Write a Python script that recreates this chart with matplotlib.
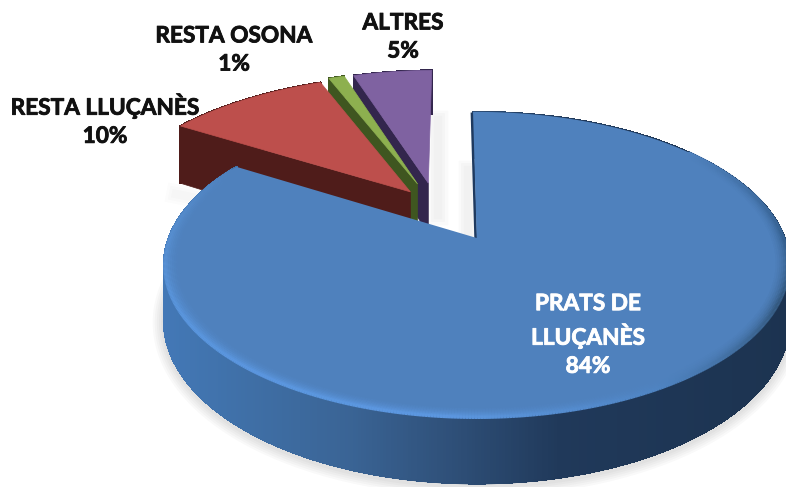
import matplotlib
matplotlib.use('Agg')
import matplotlib.pyplot as plt
import matplotlib.patheffects as pe
from matplotlib.collections import LineCollection, PolyCollection
from matplotlib.colors import to_rgb
import numpy as np

plt.rcParams['font.family'] = ['Lato', 'DejaVu Sans']

categories = ['PRATS DE\nLLUÇANÈS', 'RESTA LLUÇANÈS', 'RESTA OSONA', 'ALTRES']
values = [84, 10, 1, 5]

top_colors = ['#4f81bd', '#bd4f4c', '#8db04f', '#7f62a1']
cut_colors = ['#1f3a5f', '#4f1c1a', '#3f5620', '#33264d']
explode = [0, 0.40, 0.44, 0.43]
explode_dir = [0, 124.7, 117.8, 113.0]
radius = [1.0, 1.035, 1.015, 1.015]
depth = [54, 66, 54, 54]
label_pos = [(588, 335), (105, 120), (234, 50), (403, 37)]
label_colors = ['white', '#111111', '#111111', '#111111']

# perspective of the pie plane, in picture pixels
X0, Y0, BX, AY, K = 476.7, 238, 308, 148.3, 0.176
START = 90.8


def proj(u, v):
    den = 1 + K * v
    return X0 + BX * u / den, Y0 - AY * v / den


def drop(v, h=54):
    return h / (1 + K * v)


def mix(stops, t):
    xs = [s[0] for s in stops]
    rgb = np.array([to_rgb(s[1]) for s in stops])
    return np.column_stack([np.interp(t, xs, rgb[:, i]) for i in range(3)])


fig, ax = plt.subplots()
fig.set_size_inches(7.86, 4.87)
fig.subplots_adjust(0, 0, 1, 1)
ax.set_xlim(0, 786)
ax.set_ylim(487, 0)
ax.axis('off')

ends = START - np.cumsum(values) * 3.6
starts = ends + np.array(values) * 3.6

wall_stops = [(165, '#4378b6'), (250, '#3f6fa6'), (350, '#3a6495'), (450, '#2f5079'),
              (560, '#20395a'), (790, '#1c3350')]

# soft shadows first
th = np.radians(np.linspace(140, 375, 200))
sx, sy = proj(np.cos(th), np.sin(th))
sy = sy + drop(np.sin(th)) + 2
for lw in [16, 13, 10, 7, 4]:
    ax.plot(sx, sy, color='#555555', lw=lw, alpha=0.035, zorder=1, solid_capstyle='round')
for lw in [14, 10, 6]:
    ax.plot([438, 438], [120, 215], color='#777777', lw=lw, alpha=0.03, zorder=1)
    ax.plot([468, 468], [170, 232], color='#777777', lw=lw, alpha=0.03, zorder=1)
    ax.plot([176, 196], [194, 198], color='#777777', lw=lw, alpha=0.02, zorder=1)

# exploded slices back to front, the big one last
for i in [3, 2, 1, 0]:
    d = np.radians(explode_dir[i])
    cu, cv = explode[i] * np.cos(d), explode[i] * np.sin(d)
    r = radius[i]
    a = np.radians(np.linspace(starts[i], ends[i], max(8, int(values[i] * 8))))
    u, v = cu + r * np.cos(a), cv + r * np.sin(a)
    x, y = proj(u, v)
    z = 2 + (3 - i) * 2

    # outer wall, in strips
    dy = drop(v, depth[i])
    quads = [[(x[j], y[j]), (x[j + 1], y[j + 1]), (x[j + 1], y[j + 1] + dy[j + 1]), (x[j], y[j] + dy[j])]
             for j in range(len(x) - 1)]
    if i == 0:
        cols = mix(wall_stops, x[:-1])
    else:
        cols = np.array([to_rgb(cut_colors[i])] * len(quads))
    ax.add_collection(PolyCollection(quads, facecolors=cols, edgecolors=cols, linewidths=0.8,
                                     antialiaseds=False, zorder=z))
    low = np.column_stack([x, y + dy])
    ax.add_collection(LineCollection(np.stack([low[:-1], low[1:]], axis=1), colors=cols, linewidths=1.2, zorder=z))

    # cut face seen from the front
    ax0, ay0 = proj(cu, cv)
    if i > 0:
        ax.fill([ax0, x[0], x[0], ax0], [ay0, y[0], y[0] + dy[0], ay0 + drop(cv, depth[i])],
                color=cut_colors[i], lw=0.5, zorder=z)
        ax.fill(np.r_[ax0, x], np.r_[ay0, y], color=top_colors[i], lw=0.5, zorder=z + 1)
    else:
        ax.plot([x[0] - 1, ax0 - 1], [y[0] + 2, ay0], color=cut_colors[0], lw=2, zorder=z)
        ax.fill(np.r_[ax0, x], np.r_[ay0, y], color=top_colors[0], lw=0, zorder=z + 1)

        # bevel on the rim of the big slice, fading inwards
        deg = np.degrees(a) % 360
        rim = mix([(0, '#35608f'), (40, '#4f81bd'), (150, '#4f81bd'), (175, '#568dce'), (210, '#5a96de'),
                   (265, '#5c97e0'), (300, '#4f84c2'), (335, '#34597f'), (360, '#35608f')], deg)
        base = np.array(to_rgb(top_colors[0]))
        keep = (deg > 150) | (deg < 40)
        for f, w in [(0.962, 0.08), (0.968, 0.16), (0.974, 0.28), (0.980, 0.42), (0.986, 0.6), (0.992, 0.8), (0.997, 1.0)]:
            xr, yr = proj(f * np.cos(a[keep]), f * np.sin(a[keep]))
            pts = np.column_stack([xr, yr])
            segs = np.stack([pts[:-1], pts[1:]], axis=1)
            c = base + (rim[keep][:-1] - base) * w
            ax.add_collection(LineCollection(segs, colors=np.clip(c, 0, 1), linewidths=2.4, zorder=z + 2))

for i in range(len(values)):
    ax.text(label_pos[i][0], label_pos[i][1], '%s\n%d%%' % (categories[i], values[i]), color=label_colors[i],
            fontsize=16.3, fontweight='bold', ha='center', va='center', linespacing=1.42, zorder=20,
            path_effects=[pe.withStroke(linewidth=0.6, foreground=label_colors[i])])

plt.savefig('out.png', dpi=100)
